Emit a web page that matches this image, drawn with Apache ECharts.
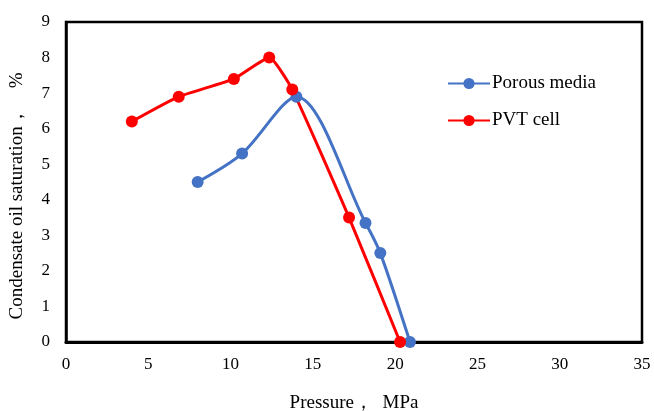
<!DOCTYPE html>
<html>
<head>
<meta charset="utf-8">
<script src="https://cdn.jsdelivr.net/npm/echarts@6/dist/echarts.min.js"></script>
<style>html,body{margin:0;padding:0;background:#fff;}#c{width:654px;height:411px;}</style>
</head>
<body>
<div id="c"></div>
<script>
var porousX = [8.0, 10.7, 14.0, 18.2, 19.1, 20.9];
var porousY = [4.5, 5.3, 6.9, 3.35, 2.5, 0];
var pvtX = [4.0, 6.85, 10.2, 12.35, 13.75, 17.2, 20.3];
var pvtY = [6.2, 6.9, 7.4, 8.0, 7.1, 3.5, 0];
var xTicks = [0, 5, 10, 15, 20, 25, 30, 35];
var yTicks = [0, 1, 2, 3, 4, 5, 6, 7, 8, 9];

function pairs(xs, ys) { return xs.map(function (x, i) { return [x, ys[i]]; }); }

var font = 'Liberation Serif, Times New Roman, serif';
var chart = echarts.init(document.getElementById('c'));
chart.setOption({
  animation: false,
  backgroundColor: '#fff',
  textStyle: { fontFamily: font },
  grid: { left: 66, right: 12, top: 22, bottom: 69, outerBoundsMode: 'none', containLabel: false,
          show: true, borderColor: '#000', borderWidth: 2.5, backgroundColor: 'transparent' },
  legend: {
    orient: 'vertical', left: 442, top: 69, itemWidth: 42, itemHeight: 14, itemGap: 18,
    textStyle: { fontFamily: font, fontSize: 19, color: '#000', padding: [0, 0, 0, -3] },
    data: ['Porous media', 'PVT cell']
  },
  xAxis: {
    type: 'value', min: xTicks[0], max: xTicks[xTicks.length - 1], interval: 5,
    name: 'Pressure，  MPa', nameLocation: 'middle', nameGap: 52,
    nameTextStyle: { fontFamily: font, fontSize: 19, color: '#000' },
    axisLine: { show: true, lineStyle: { color: '#000', width: 3 } },
    axisTick: { show: false },
    splitLine: { show: false },
    axisLabel: { fontFamily: font, fontSize: 17, color: '#000', margin: 14 }
  },
  yAxis: {
    type: 'value', min: yTicks[0], max: yTicks[yTicks.length - 1], interval: 1,
    name: 'Condensate oil saturation，    %', nameLocation: 'middle', nameGap: 39,
    nameTextStyle: { fontFamily: font, fontSize: 19, color: '#000', padding: [0, 28, 0, 0] },
    axisLine: { show: true, lineStyle: { color: '#000', width: 2.5 } },
    axisTick: { show: false },
    splitLine: { show: false },
    axisLabel: { fontFamily: font, fontSize: 17, color: '#000', margin: 16 }
  },
  series: [
    {
      name: 'Porous media', type: 'line', data: pairs(porousX, porousY), smooth: 0.3,
      symbol: 'circle', symbolSize: 12,
      lineStyle: { color: '#4472C4', width: 3 },
      itemStyle: { color: '#4472C4' }
    },
    {
      name: 'PVT cell', type: 'line', data: pairs(pvtX, pvtY), smooth: 0.15,
      symbol: 'circle', symbolSize: 12,
      lineStyle: { color: '#FF0000', width: 3 },
      itemStyle: { color: '#FF0000' }
    }
  ]
});
</script>
</body>
</html>
